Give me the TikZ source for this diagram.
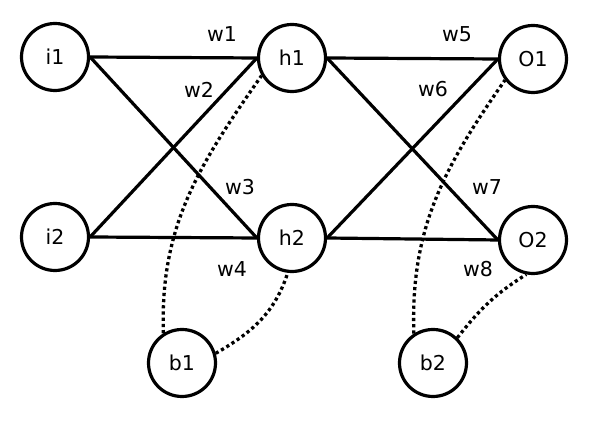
\documentclass[tikz,border=0pt]{standalone}
\usepackage{fontspec}
\setmainfont{DejaVu Sans}
\begin{document}
\begin{tikzpicture}[x=1pt,y=1pt,
  neuron/.style={circle,draw,line width=3.2pt,minimum size=67pt,inner sep=0pt,font=\fontsize{20.5}{22}\selectfont},
  weight/.style={line width=3.2pt},
  bias/.style={line width=3.3pt,dash pattern=on 3.2pt off 3pt},
  wlabel/.style={font=\fontsize{20.5}{22}\selectfont,inner sep=0pt}]
\useasboundingbox (0,0) rectangle (590,430);
% neurons
\node[neuron] (i1) at (55,373) {i1};
\node[neuron] (i2) at (55,193) {i2};
\node[neuron] (h1) at (292,372) {h1};
\node[neuron] (h2) at (292,192) {h2};
\node[neuron] (o1) at (533,371) {O1};
\node[neuron] (o2) at (533,190) {O2};
\node[neuron] (b1) at (182,67) {b1};
\node[neuron] (b2) at (433,67) {b2};
% weighted connections
\draw[weight] (i1.east) -- (h1.west);
\draw[weight] (i1.east) -- (h2.west);
\draw[weight] (i2.east) -- (h1.west);
\draw[weight] (i2.east) -- (h2.west);
\draw[weight] (h1.east) -- (o1.west);
\draw[weight] (h1.east) -- (o2.west);
\draw[weight] (h2.east) -- (o1.west);
\draw[weight] (h2.east) -- (o2.west);
% bias connections
\draw[bias] (b1.122) to[out=92,in=235] (h1.210);
\draw[bias] (b1.16) to[out=30,in=252] (h2.263);
\draw[bias] (b2.123) to[out=92,in=235] (o1.217);
\draw[bias] (b2.46) to[out=52,in=212] (o2.259);
% weight labels
\node[wlabel] (w1) at (222,396) {w1};
\node[wlabel] (w2) at (199,340) {w2};
\node[wlabel] (w3) at (240,243) {w3};
\node[wlabel] (w4) at (232,161) {w4};
\node[wlabel] (w5) at (457,396) {w5};
\node[wlabel] (w6) at (433,341) {w6};
\node[wlabel] (w7) at (487,243) {w7};
\node[wlabel] (w8) at (478,161) {w8};
\end{tikzpicture}
\end{document}
